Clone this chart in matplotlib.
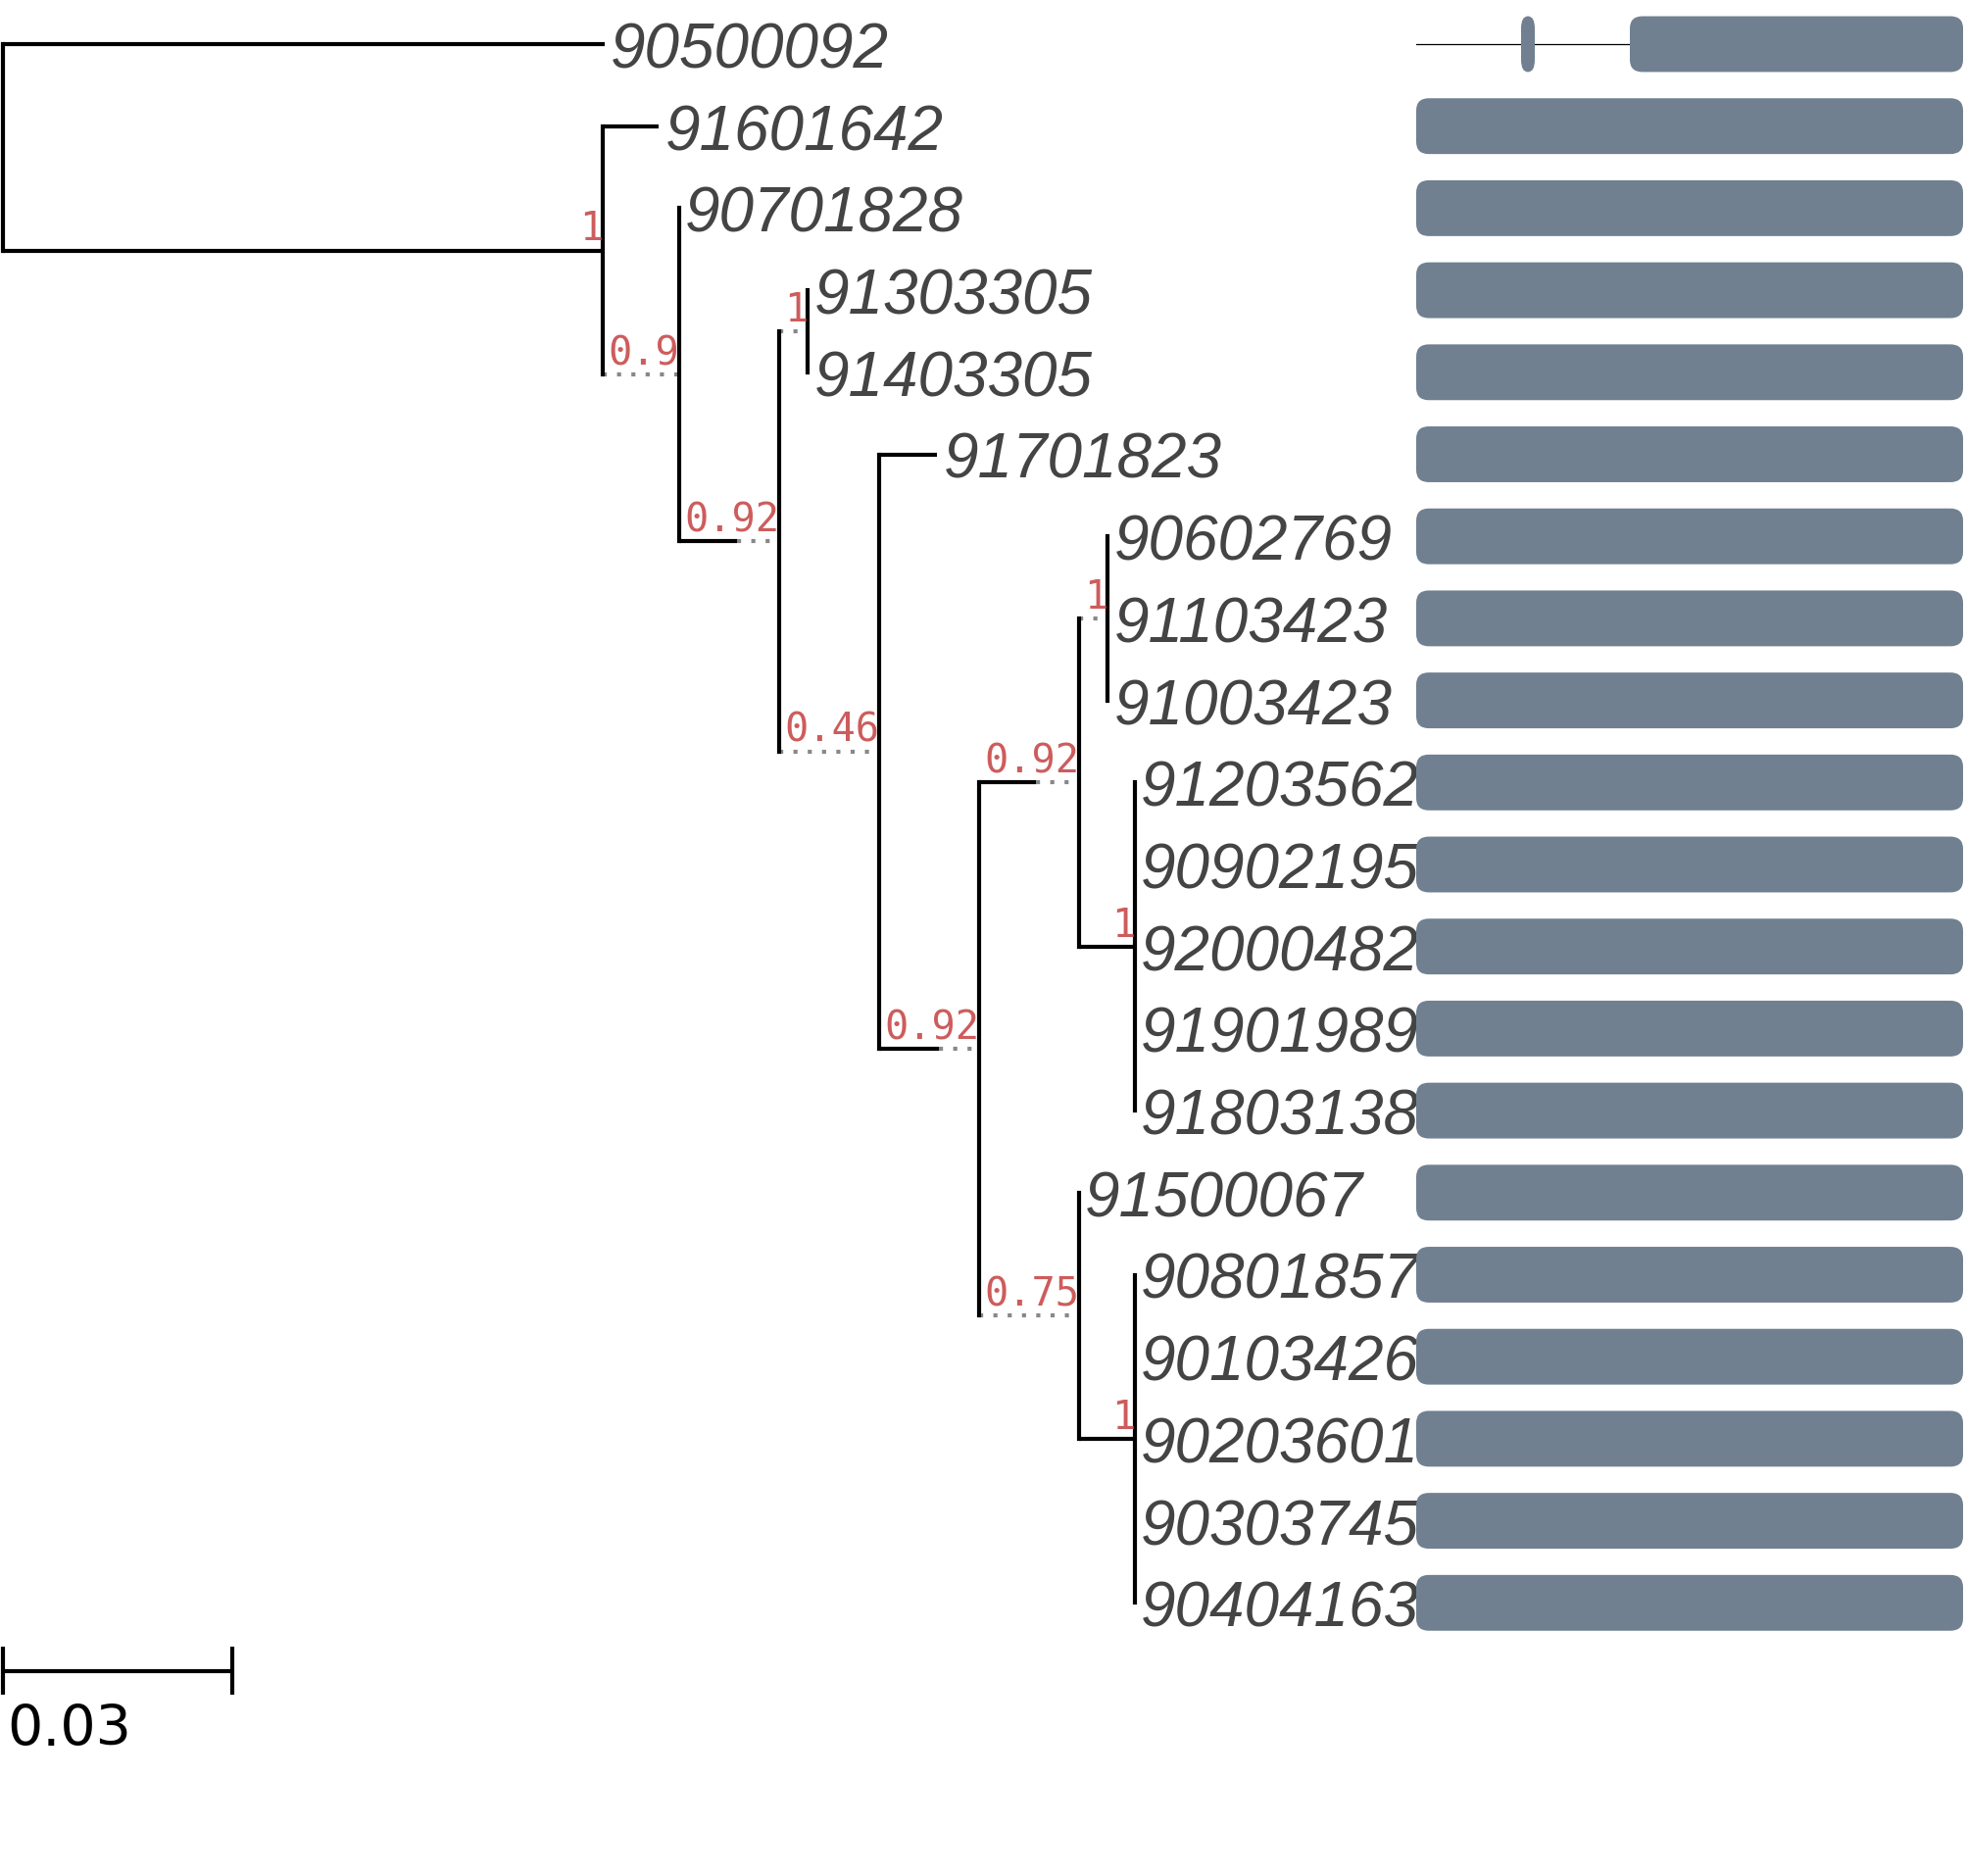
import matplotlib
matplotlib.use("Agg")
import matplotlib.pyplot as plt
from matplotlib.patches import FancyBboxPatch

# Baum in Preorder: navn, forelder, greinlengde, stotte
node_name = ["root", "90500092", "n1", "91601642", "n2", "90701828", "n3",
             "n4", "91303305", "91403305", "n5", "91701823", "n6", "n7", "n8",
             "90602769", "91103423", "91003423", "n9", "91203562", "90902195",
             "92000482", "91901989", "91803138", "n10", "91500067", "n11",
             "90801857", "90103426", "90203601", "90303745", "90404163"]
node_parent = [None, "root", "root", "n1", "n1", "n2", "n2",
               "n3", "n4", "n4", "n3", "n5", "n5", "n6", "n7",
               "n8", "n8", "n8", "n7", "n9", "n9",
               "n9", "n9", "n9", "n6", "n10", "n10",
               "n11", "n11", "n11", "n11", "n11"]
node_length = [0, 0.0787, 0.0785, 0.0073, 0, 0, 0.0076,
               0, 0, 0, 0, 0.0076, 0.0078, 0.0074, 0,
               0, 0, 0, 0.0073, 0, 0,
               0, 0, 0, 0, 0, 0.0073,
               0, 0, 0, 0, 0]
node_support = [None, None, 1, None, 0.9, None, 0.92,
                1, None, None, 0.46, None, 0.92, 0.92, 1,
                None, None, None, 1, None, None,
                None, None, None, 0.75, None, 1,
                None, None, None, None, None]

# Domener i justeringen (kolonner)
aln_length = 558
domain_tip = ["90500092", "90500092"]
domain_start = [107, 218]
domain_end = [121, 558]

scale_len = 0.03

tree_col = "black"
ext_col = "#888888"
sup_col = "#cd5c5c"
tip_col = "#444444"
dom_col = "#708090"

W, H = 2007, 1915
fig = plt.figure(figsize=(W / 100, H / 100), dpi=100)
ax = fig.add_axes([0, 0, 1, 1])
px_unit = 7800.0
row_px = 83.7
ax.set_xlim(-3 / px_unit, (W - 3) / px_unit)
ax.set_ylim((H - 46) / row_px, -46 / row_px)
ax.axis("off")

renderer = fig.canvas.get_renderer()

parents = set(p for p in node_parent if p is not None)
tips = [n for n in node_name if n not in parents]
children = {n: [] for n in node_name}
for n, p in zip(node_name, node_parent):
    if p is not None:
        children[p].append(n)
idx = {n: i for i, n in enumerate(node_name)}

# bredde paa stotteetiketter -> forlengelse (prikket)
sup_kw = dict(fontsize=29, family="DejaVu Sans Mono", color=sup_col)
ext = {}
for n, s in zip(node_name, node_support):
    if s is None:
        ext[n] = 0
        continue
    t = ax.text(0, 0, f"{s:g}", **sup_kw)
    w = t.get_window_extent(renderer).width
    t.remove()
    need = (w + 5) / px_unit
    ext[n] = max(0, need - node_length[idx[n]])

xpos, ypos = {}, {}
for n, p in zip(node_name, node_parent):
    xpos[n] = 0 if p is None else xpos[p] + node_length[idx[n]] + ext[n]
for i, t in enumerate(tips):
    ypos[t] = i
for n in reversed(node_name):
    if children[n]:
        ypos[n] = (ypos[children[n][0]] + ypos[children[n][-1]]) / 2

lw = 3
for n, p in zip(node_name, node_parent):
    if p is None:
        continue
    x0 = xpos[p]
    x1 = x0 + node_length[idx[n]]
    y = ypos[n]
    if x1 > x0:
        ax.plot([x0, x1], [y, y], color=tree_col, lw=lw, solid_capstyle="butt")
    if xpos[n] > x1:
        ax.plot([x1, xpos[n]], [y, y], color=ext_col, lw=lw,
                linestyle=(0, (1, 2.5)), dash_capstyle="butt")
for n in node_name:
    if children[n]:
        ax.plot([xpos[n], xpos[n]], [ypos[children[n][0]], ypos[children[n][-1]]],
                color=tree_col, lw=lw, solid_capstyle="projecting")

for n, s in zip(node_name, node_support):
    if s is not None:
        ax.annotate(f"{s:g}", (xpos[n], ypos[n]), xytext=(0, 8),
                    textcoords="offset points", ha="right", va="baseline", **sup_kw)

for t in tips:
    ax.annotate(t, (xpos[t], ypos[t]), xytext=(4.5, 0), textcoords="offset points",
                ha="left", va="center_baseline", fontsize=46, style="italic",
                family="Liberation Sans", color=tip_col)

# skala
ys = len(tips) - 0.17
ax.plot([0, scale_len], [ys, ys], color="black", lw=lw, solid_capstyle="butt")
for xs in [0, scale_len]:
    ax.plot([xs, xs], [ys - 0.29, ys + 0.29], color="black", lw=lw, solid_capstyle="butt")
ax.annotate(f"{scale_len:g}", (0, ys + 0.29), xytext=(3, -6), textcoords="offset points",
            ha="left", va="top", fontsize=41, family="DejaVu Sans", color="black")

# justeringspanel
ax2 = fig.add_axes([1445 / W, 0, (2003 - 1445) / W, 1])
ax2.set_xlim(0, aln_length)
ax2.set_ylim(ax.get_ylim())
ax2.axis("off")
p0 = ax2.transData.transform((0, 0))
p1 = ax2.transData.transform((1, 1))
aspect = abs(p1[0] - p0[0]) / abs(p1[1] - p0[1])
bh = 0.68
ry = 12.5
for i, t in enumerate(tips):
    segs = [(s, e) for d, s, e in zip(domain_tip, domain_start, domain_end) if d == t]
    if not segs:
        segs = [(0, aln_length)]
    else:
        ax2.plot([0, aln_length], [i, i], color="black", lw=0.9, zorder=1)
    for s, e in segs:
        rx = min(13, (e - s) / 2)
        box = FancyBboxPatch((s, i - bh / 2), e - s, bh,
                             boxstyle=f"round,pad=0,rounding_size={rx}",
                             mutation_aspect=aspect * ry / rx, facecolor=dom_col,
                             edgecolor="none", zorder=2)
        ax2.add_patch(box)

fig.savefig("out.png", dpi=100)
